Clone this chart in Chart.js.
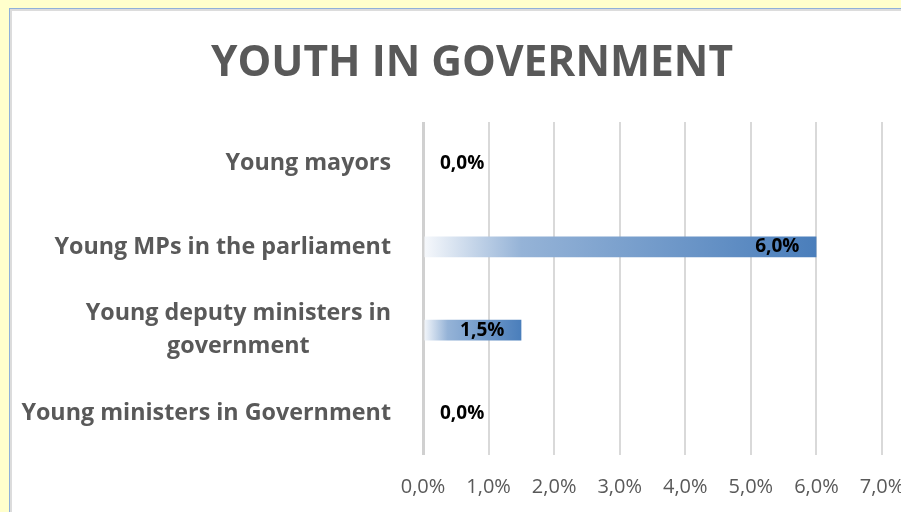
<!DOCTYPE html>
<html>
<head>
<meta charset="utf-8">
<script src="https://cdn.jsdelivr.net/npm/chart.js@4"></script>
<style>
	html, body { margin: 0; padding: 0; background: #ffffcc; overflow: hidden; }
	#panel {
		position: absolute; left: 9px; top: 8px; width: 1000px; height: 600px;
		background: #fff; border-left: 1px solid #8fb0da; border-top: 1px solid #8fb0da;
		box-shadow: inset 2px 2px 0 #dcdcdc;
	}
	#myChart { position: absolute; left: 0; top: 0; }
</style>
</head>
<body>
<div id="panel"></div>
<canvas id="myChart" width="901" height="512"></canvas>
<script>
var categories = [
	["Young mayors"],
	["Young MPs in the parliament"],
	["Young deputy ministers in", "government"],
	["Young ministers in Government"]
];
var shares = [0, 6.0, 1.5, 0];
var tickLabels = ["0,0%", "1,0%", "2,0%", "3,0%", "4,0%", "5,0%", "6,0%", "7,0%"];

var FONT = "'Open Sans', 'Liberation Sans', sans-serif";

function pct(v) {
	return v.toFixed(1).replace(".", ",") + "%";
}

// category names on the left, wrapped lines centred under each other
const categoryLabels = {
	id: "categoryLabels",
	afterDraw: function (chart) {
		var c = chart.ctx;
		var y = chart.scales.y;
		var right = 391;
		c.save();
		c.font = "bold 23.3px " + FONT;
		c.fillStyle = "#595959";
		c.textBaseline = "middle";
		c.textAlign = "center";
		categories.forEach(function (lines, i) {
			var cy = y.getPixelForValue(i);
			var w = Math.max.apply(null, lines.map(function (l) { return c.measureText(l).width; }));
			var cx = right - w / 2;
			var lh = 33;
			lines.forEach(function (l, k) {
				c.fillText(l, cx, cy + (k - (lines.length - 1) / 2) * lh);
			});
		});
		c.restore();
	}
};

// value labels, inside the bar end when they fit, else just after it
const barLabels = {
	id: "barLabels",
	afterDatasetsDraw: function (chart) {
		var c = chart.ctx;
		var meta = chart.getDatasetMeta(0);
		var x = chart.scales.x;
		c.save();
		c.font = "bold 19px " + FONT;
		c.fillStyle = "#000";
		c.textBaseline = "middle";
		meta.data.forEach(function (bar, i) {
			var txt = pct(shares[i]);
			var w = c.measureText(txt).width;
			var x0 = x.getPixelForValue(0);
			if (bar.x - x0 > w + 34) {
				c.textAlign = "right";
				c.fillText(txt, bar.x - 17, bar.y);
			} else {
				c.textAlign = "left";
				c.fillText(txt, bar.x + 17, bar.y);
			}
		});
		c.restore();
	}
};

const data = {
	labels: categories,
	datasets: [
		{
			data: shares,
			barPercentage: 0.252,
			categoryPercentage: 1,
			borderWidth: 0,
			backgroundColor: function (ctx) {
				var chart = ctx.chart;
				if (!chart.chartArea) return "#4f81bd";
				var x = chart.scales.x;
				var x0 = x.getPixelForValue(0);
				var x1 = x.getPixelForValue(ctx.raw);
				if (x1 - x0 < 1) return "#4f81bd";
				var g = chart.ctx.createLinearGradient(x0, 0, x1, 0);
				g.addColorStop(0, "#f7f9fc");
				g.addColorStop(0.25, "#95b3d7");
				g.addColorStop(1, "#4a7ebb");
				return g;
			},
		},
	],
};

const config = {
	type: "bar",
	data: data,
	options: {
		indexAxis: "y",
		responsive: false,
		animation: false,
		layout: {
			padding: { left: 62, right: 19, top: 0, bottom: 13 },
		},
		plugins: {
			legend: { display: false },
			tooltip: { enabled: false },
			title: {
				display: true,
				text: "YOUTH IN GOVERNMENT",
				color: "#595959",
				font: { family: FONT, size: 42.5, weight: "bold" },
				padding: { top: 38, bottom: 33 },
			},
		},
		scales: {
			x: {
				min: 0,
				max: 7,
				ticks: {
					stepSize: 1,
					maxRotation: 0,
					color: "#595959",
					font: { family: FONT, size: 20 },
					padding: 20,
					callback: function (v, i) { return tickLabels[i]; },
				},
				grid: {
					drawTicks: false,
					color: function (ctx) { return ctx.index === 0 ? "#d0d0d0" : "#d9d9d9"; },
					lineWidth: function (ctx) { return ctx.index === 0 ? 3 : 2; },
				},
				border: { display: false },
				afterFit: function (scale) {
					scale.paddingLeft = 0;
					scale.paddingRight = 0;
					scale.height = 44;
				},
			},
			y: {
				ticks: { display: false },
				grid: { display: false },
				border: { display: false },
				afterFit: function (scale) {
					scale.width = 361;
				},
			},
		},
	},
	plugins: [categoryLabels, barLabels],
};

const myChart = new Chart(document.getElementById("myChart"), config);
</script>
</body>
</html>
